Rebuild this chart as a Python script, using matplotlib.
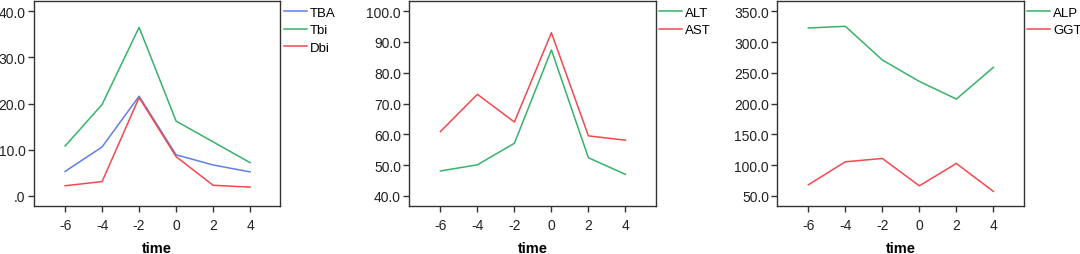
import matplotlib
matplotlib.use('Agg')
import matplotlib.pyplot as plt

plt.rcParams['font.family'] = ['Liberation Sans', 'DejaVu Sans']

time = [-6, -4, -2, 0, 2, 4]

tba = [5.3, 10.6, 21.6, 8.9, 6.7, 5.2]
tbi = [10.8, 19.8, 36.5, 16.2, 11.7, 7.2]
dbi = [2.2, 3.1, 21.3, 8.5, 2.3, 1.9]

alt = [48.1, 50.1, 57.1, 87.4, 52.4, 47.0]
ast = [60.9, 73.0, 64.0, 93.0, 59.5, 58.1]

alp = [322.9, 325.6, 270.8, 236.0, 207.3, 258.8]
ggt = [67.9, 105.3, 110.7, 66.2, 102.6, 57.1]

blue = '#5f7fe3'
green = '#38b26a'
red = '#f2494f'

panels = [
    # (left, series, yticks, ticklabels, ylim)
    (0.0315, [(tba, 'TBA', blue), (tbi, 'Tbi', green), (dbi, 'Dbi', red)],
     [0, 10, 20, 30, 40], ['.0', '10.0', '20.0', '30.0', '40.0'], (-2.2, 42.2)),
    (0.379, [(alt, 'ALT', green), (ast, 'AST', red)],
     [40, 50, 60, 70, 80, 90, 100],
     ['40.0', '50.0', '60.0', '70.0', '80.0', '90.0', '100.0'], (36.7, 103.3)),
    (0.7197, [(alp, 'ALP', green), (ggt, 'GGT', red)],
     [50, 100, 150, 200, 250, 300, 350],
     ['50.0', '100.0', '150.0', '200.0', '250.0', '300.0', '350.0'], (33.3, 366.7)),
]

fig = plt.figure(figsize=(10.8, 2.55), dpi=100)

for left, series, yt, ytl, ylim in panels:
    ax = fig.add_axes([left, 0.188, 0.228, 0.804])
    for vals, name, col in series:
        ax.plot(time, vals, color=col, linewidth=1.1, label=name)
    ax.set_xlim(-7.68, 5.63)
    ax.set_ylim(*ylim)
    ax.set_xticks(time)
    ax.set_xticklabels([str(t) for t in time])
    ax.set_yticks(yt)
    ax.set_yticklabels(ytl)
    ax.tick_params(direction='out', length=4, width=1, labelsize=10,
                   colors='#333333', labelcolor='#222222', pad=2)
    ax.tick_params(axis='x', pad=4.5)
    for s in ax.spines.values():
        s.set_color('#333333')
        s.set_linewidth(1)
    ax.set_xlabel('time', fontsize=10.5, fontweight='bold', labelpad=6.5)
    ax.legend(loc='upper left', bbox_to_anchor=(1.0, 0.99), frameon=False,
              fontsize=9.5, handlelength=1.75, handletextpad=0.25,
              labelspacing=0.4, borderpad=0, borderaxespad=0.25)

fig.savefig('out.png', dpi=100)
